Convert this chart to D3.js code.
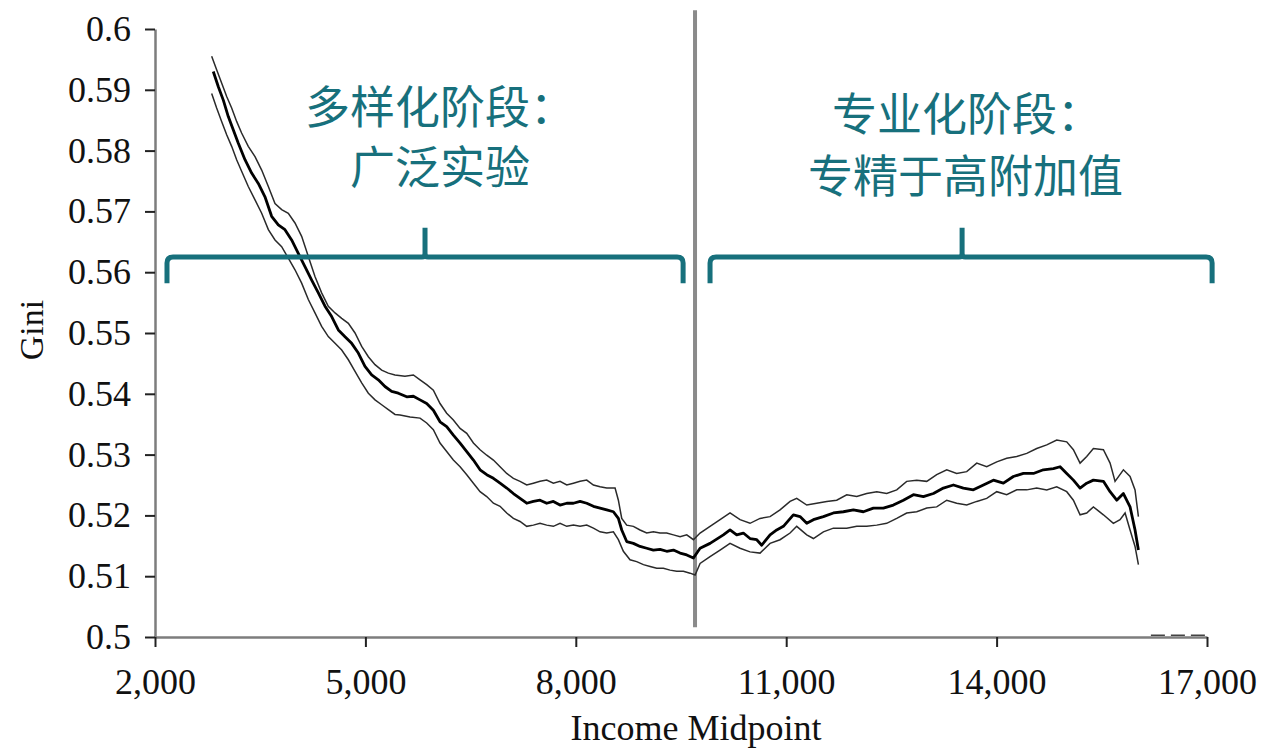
<!DOCTYPE html>
<html>
<head>
<meta charset="utf-8">
<script src="https://cdn.jsdelivr.net/npm/d3@7"></script>
<style>
  html, body { margin: 0; padding: 0; background: #fff; }
  svg { display: block; }
</style>
</head>
<body>
<svg id="chart" width="1264" height="750"></svg>
<script>
// ---- data ----
const xTicks = [2000, 5000, 8000, 11000, 14000, 17000];
const yTicks = [0.5, 0.51, 0.52, 0.53, 0.54, 0.55, 0.56, 0.57, 0.58, 0.59, 0.6];
const xLabel = "Income Midpoint";
const yLabel = "Gini";

// [income midpoint, gini]
const centerLine = [
  [2831,0.5930],[2903,0.5905],[2974,0.5883],[3045,0.5856],[3117,0.5834],[3188,0.5812],
  [3283,0.5785],[3378,0.5763],[3473,0.5746],[3568,0.5724],[3663,0.5692],[3758,0.5678],
  [3853,0.5670],[3948,0.5653],[4043,0.5631],[4138,0.5609],[4234,0.5587],[4329,0.5566],
  [4424,0.5544],[4519,0.5527],[4614,0.5505],[4709,0.5494],[4804,0.5483],[4899,0.5467],
  [4994,0.5445],[5089,0.5431],[5184,0.5423],[5279,0.5412],[5374,0.5404],[5469,0.5401],
  [5589,0.5395],[5684,0.5396],[5779,0.5390],[5874,0.5384],[5969,0.5373],[6064,0.5354],
  [6159,0.5346],[6254,0.5332],[6350,0.5319],[6445,0.5305],[6540,0.5291],[6635,0.5275],
  [6730,0.5267],[6825,0.5261],[6920,0.5253],[7015,0.5245],[7110,0.5236],[7205,0.5228],
  [7300,0.5220],[7395,0.5223],[7490,0.5225],[7585,0.5220],[7680,0.5223],[7775,0.5217],
  [7871,0.5220],[7966,0.5220],[8061,0.5223],[8156,0.5220],[8251,0.5215],[8346,0.5212],
  [8441,0.5209],[8536,0.5206],[8607,0.5195],[8655,0.5176],[8726,0.5157],[8821,0.5154],
  [8916,0.5149],[9011,0.5146],[9106,0.5143],[9201,0.5144],[9296,0.5141],[9392,0.5143],
  [9487,0.5138],[9582,0.5135],[9677,0.5130],[9772,0.5146],[9914,0.5154],[10104,0.5168],
  [10199,0.5176],[10294,0.5168],[10389,0.5171],[10484,0.5162],[10580,0.5160],[10651,0.5151],
  [10770,0.5168],[10865,0.5176],[10960,0.5182],[11102,0.5201],[11197,0.5198],[11293,0.5187],
  [11388,0.5193],[11530,0.5198],[11673,0.5204],[11815,0.5206],[11958,0.5209],[12101,0.5206],
  [12243,0.5212],[12386,0.5212],[12528,0.5217],[12671,0.5225],[12814,0.5234],[12956,0.5231],
  [13099,0.5236],[13241,0.5245],[13384,0.5250],[13526,0.5245],[13669,0.5242],[13812,0.5250],
  [13954,0.5258],[14097,0.5253],[14239,0.5264],[14382,0.5269],[14525,0.5269],[14667,0.5275],
  [14810,0.5277],[14905,0.5280],[15000,0.5269],[15095,0.5258],[15190,0.5245],[15285,0.5253],
  [15380,0.5258],[15523,0.5256],[15618,0.5239],[15713,0.5225],[15808,0.5236],[15903,0.5214],
  [15974,0.5176],[16022,0.5143]
];
const upperBand = [
  [2808,0.5955],[2879,0.5933],[2950,0.5911],[3022,0.5889],[3093,0.5870],[3164,0.5848],
  [3235,0.5829],[3330,0.5807],[3426,0.5790],[3521,0.5768],[3616,0.5741],[3711,0.5713],
  [3806,0.5703],[3901,0.5697],[3996,0.5681],[4091,0.5659],[4186,0.5626],[4281,0.5593],
  [4376,0.5566],[4471,0.5544],[4567,0.5533],[4662,0.5524],[4757,0.5516],[4852,0.5500],
  [4947,0.5478],[5042,0.5461],[5137,0.5448],[5232,0.5439],[5327,0.5434],[5422,0.5431],
  [5564,0.5429],[5684,0.5431],[5779,0.5423],[5874,0.5415],[5969,0.5406],[6064,0.5384],
  [6159,0.5368],[6254,0.5357],[6350,0.5343],[6445,0.5335],[6540,0.5319],[6635,0.5308],
  [6730,0.5299],[6825,0.5291],[6920,0.5280],[7015,0.5269],[7110,0.5261],[7205,0.5256],
  [7300,0.5250],[7395,0.5253],[7490,0.5256],[7585,0.5258],[7680,0.5253],[7775,0.5256],
  [7871,0.5250],[7966,0.5253],[8061,0.5256],[8156,0.5258],[8251,0.5250],[8346,0.5247],
  [8441,0.5245],[8560,0.5245],[8607,0.5225],[8655,0.5195],[8726,0.5184],[8821,0.5182],
  [8916,0.5176],[9011,0.5171],[9106,0.5173],[9201,0.5171],[9296,0.5171],[9392,0.5168],
  [9487,0.5165],[9582,0.5168],[9677,0.5160],[9772,0.5171],[9914,0.5182],[10057,0.5193],
  [10199,0.5204],[10342,0.5193],[10484,0.5187],[10627,0.5195],[10770,0.5198],[10912,0.5209],
  [11055,0.5223],[11150,0.5228],[11293,0.5217],[11435,0.5220],[11578,0.5223],[11720,0.5225],
  [11863,0.5234],[12006,0.5231],[12148,0.5236],[12291,0.5239],[12433,0.5236],[12576,0.5242],
  [12718,0.5256],[12861,0.5258],[13004,0.5256],[13146,0.5267],[13289,0.5275],[13431,0.5269],
  [13574,0.5272],[13717,0.5286],[13859,0.5280],[14002,0.5288],[14144,0.5294],[14287,0.5297],
  [14430,0.5302],[14572,0.5310],[14715,0.5316],[14857,0.5324],[15000,0.5321],[15095,0.5308],
  [15190,0.5286],[15285,0.5297],[15380,0.5310],[15523,0.5308],[15618,0.5286],[15689,0.5256],
  [15808,0.5275],[15903,0.5264],[15974,0.5242],[16022,0.5198]
];
const lowerBand = [
  [2808,0.5894],[2879,0.5870],[2950,0.5848],[3022,0.5826],[3093,0.5807],[3164,0.5785],
  [3235,0.5766],[3330,0.5741],[3426,0.5719],[3521,0.5697],[3616,0.5670],[3711,0.5653],
  [3806,0.5642],[3901,0.5623],[3996,0.5604],[4091,0.5582],[4186,0.5555],[4281,0.5533],
  [4376,0.5511],[4471,0.5494],[4567,0.5483],[4662,0.5472],[4757,0.5456],[4852,0.5437],
  [4947,0.5418],[5042,0.5401],[5137,0.5390],[5232,0.5382],[5327,0.5374],[5422,0.5366],
  [5494,0.5365],[5637,0.5362],[5779,0.5360],[5874,0.5352],[5969,0.5341],[6064,0.5319],
  [6159,0.5305],[6254,0.5291],[6350,0.5280],[6445,0.5267],[6540,0.5253],[6635,0.5239],
  [6730,0.5231],[6825,0.5220],[6920,0.5215],[7015,0.5204],[7110,0.5195],[7205,0.5190],
  [7300,0.5182],[7395,0.5184],[7490,0.5187],[7585,0.5184],[7680,0.5182],[7775,0.5187],
  [7871,0.5182],[7966,0.5184],[8061,0.5182],[8156,0.5184],[8251,0.5179],[8346,0.5173],
  [8441,0.5171],[8536,0.5173],[8607,0.5160],[8678,0.5141],[8773,0.5127],[8868,0.5124],
  [8964,0.5119],[9059,0.5116],[9154,0.5113],[9249,0.5113],[9344,0.5110],[9439,0.5108],
  [9534,0.5108],[9629,0.5105],[9701,0.5102],[9772,0.5121],[9914,0.5132],[10057,0.5143],
  [10199,0.5154],[10342,0.5146],[10484,0.5140],[10627,0.5138],[10770,0.5154],[10912,0.5160],
  [11055,0.5171],[11150,0.5182],[11293,0.5168],[11388,0.5162],[11530,0.5173],[11673,0.5179],
  [11863,0.5179],[12006,0.5182],[12148,0.5182],[12291,0.5184],[12433,0.5187],[12576,0.5195],
  [12718,0.5204],[12861,0.5206],[13004,0.5212],[13146,0.5214],[13289,0.5225],[13431,0.5220],
  [13574,0.5217],[13717,0.5223],[13859,0.5228],[14002,0.5239],[14144,0.5234],[14287,0.5242],
  [14430,0.5242],[14572,0.5245],[14715,0.5242],[14857,0.5247],[15000,0.5239],[15095,0.5225],
  [15190,0.5201],[15285,0.5204],[15380,0.5214],[15523,0.5201],[15665,0.5187],[15760,0.5193],
  [15832,0.5204],[15903,0.5176],[15974,0.5149],[16022,0.5119]
];
const tailLine = [[16200,0.5003],[17000,0.5003]];

const dividerIncome = 9700;
const dividerRange = [0.5016, 0.6031];

// brackets: [start, notch, end] incomes; gini levels for bar, tips, notch top
const bracketLeft = [2171, 5850, 9530];
const bracketRight = [9914, 13508, 17073];
const bracketBarGini = 0.5625;
const bracketTipGini = 0.5582;
const bracketNotchGini = 0.5673;

const leftTitle = ["多样化阶段：", "广泛实验"];
const rightTitle = ["专业化阶段：", "专精于高附加值"];

// ---- drawing ----
const svg = d3.select("#chart");
const x = d3.scaleLinear().domain([2000, 17000]).range([155, 1207]);
const y = d3.scaleLinear().domain([0.5, 0.6]).range([637, 29]);

const serif = "'Liberation Serif', 'Times New Roman', serif";
const teal = "#17707c";

// axes
const yAxis = d3.axisLeft(y).tickValues(yTicks).tickSize(10).tickSizeOuter(0).tickPadding(14)
  .tickFormat(d => d3.format(".2~f")(d));
const gy = svg.append("g").attr("transform", `translate(${x(2000)},0)`).call(yAxis);
const xAxis = d3.axisBottom(x).tickValues(xTicks).tickSize(10).tickSizeOuter(0).tickPadding(21)
  .tickFormat(d3.format(","));
const gx = svg.append("g").attr("transform", `translate(0,${y(0.5)})`).call(xAxis);

[gx, gy].forEach(g => {
  g.select(".domain").attr("stroke", "#7d7d7d").attr("stroke-width", 2.5);
  g.selectAll(".tick line").attr("stroke", "#222").attr("stroke-width", 2);
  g.selectAll(".tick text").attr("fill", "#111").style("font-family", serif).style("font-size", "36px");
});

svg.append("text")
  .attr("transform", `translate(31,330) rotate(-90)`)
  .attr("text-anchor", "middle").attr("dominant-baseline", "central")
  .style("font-family", serif).style("font-size", "34px").attr("fill", "#111")
  .text(yLabel);

svg.append("text")
  .attr("x", 696).attr("y", 740)
  .attr("text-anchor", "middle")
  .style("font-family", serif).style("font-size", "36px").attr("fill", "#111")
  .text(xLabel);

// divider
svg.append("line")
  .attr("x1", x(dividerIncome)).attr("x2", x(dividerIncome))
  .attr("y1", y(dividerRange[1])).attr("y2", y(dividerRange[0]))
  .attr("stroke", "#8a8a8a").attr("stroke-width", 4);

// lines
const line = d3.line().x(d => x(d[0])).y(d => y(d[1]));
svg.append("path").datum(upperBand).attr("d", line)
  .attr("fill", "none").attr("stroke", "#2a2a2a").attr("stroke-width", 1.5);
svg.append("path").datum(lowerBand).attr("d", line)
  .attr("fill", "none").attr("stroke", "#2a2a2a").attr("stroke-width", 1.5);
svg.append("path").datum(centerLine).attr("d", line)
  .attr("fill", "none").attr("stroke", "#000").attr("stroke-width", 2.8).attr("stroke-linejoin", "round");
svg.append("path").datum(tailLine).attr("d", line)
  .attr("fill", "none").attr("stroke", "#444").attr("stroke-width", 1.5).attr("stroke-dasharray", "14 6");

// brackets
function bracket(b) {
  const [a, m, e] = b.map(x);
  const yb = y(bracketBarGini), yt = y(bracketTipGini), yn = y(bracketNotchGini);
  const p = d3.path();
  p.moveTo(a, yt); p.lineTo(a, yb + 6); p.quadraticCurveTo(a, yb, a + 6, yb);
  p.lineTo(m - 3, yb); p.quadraticCurveTo(m, yb, m, yb - 4); p.lineTo(m, yn);
  p.moveTo(m, yb - 4); p.quadraticCurveTo(m, yb, m + 3, yb);
  p.lineTo(e - 6, yb); p.quadraticCurveTo(e, yb, e, yb + 6); p.lineTo(e, yt);
  return p.toString();
}
[bracketLeft, bracketRight].forEach(b => {
  svg.append("path").attr("d", bracket(b)).attr("fill", "none")
    .attr("stroke", teal).attr("stroke-width", 5).attr("stroke-linecap", "butt");
});

// titles
const cjk = "'Noto Sans CJK SC', sans-serif";
const titles = [
  {t: leftTitle[0], x: 305, y: 104}, {t: leftTitle[1], x: 350, y: 164},
  {t: rightTitle[0], x: 832, y: 111}, {t: rightTitle[1], x: 808, y: 173}
];
svg.selectAll("text.title").data(titles).join("text").attr("class", "title")
  .attr("x", d => d.x).attr("y", d => d.y)
  .attr("dominant-baseline", "central")
  .style("font-family", cjk).style("font-size", "45px").attr("fill", teal)
  .text(d => d.t);
</script>
</body>
</html>
